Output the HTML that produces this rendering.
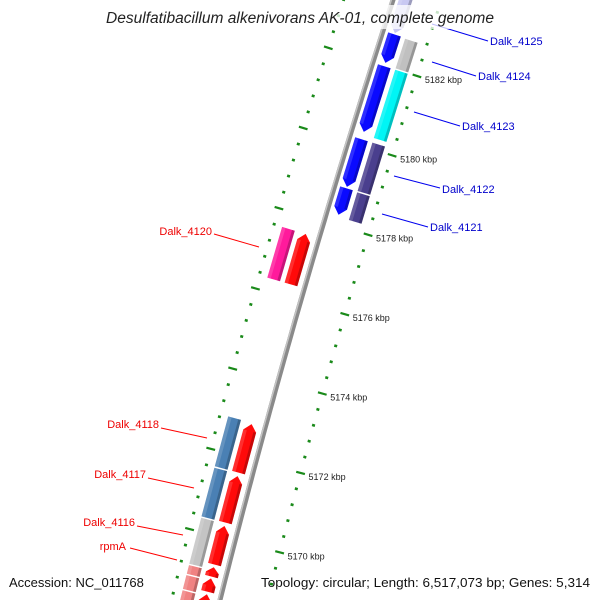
<!DOCTYPE html>
<html><head><meta charset="utf-8"><style>
html,body{margin:0;padding:0;background:#fff;overflow:hidden;width:600px;height:600px;}
svg{display:block;font-family:"Liberation Sans","DejaVu Sans",sans-serif;overflow:hidden;}
</style></head><body>
<svg id="map" width="600" height="600" viewBox="0 0 600 600" xmlns="http://www.w3.org/2000/svg">
<g id="ticks"></g>
<path id="backbone" d="" fill="none"/>
<g id="features"></g>
<g id="labels"></g>
<rect x="100" y="5" width="400" height="24" fill="#fff" opacity="0.75"/>
<text x="300" y="23" text-anchor="middle" font-size="15.5" font-style="italic" fill="#222" textLength="388" lengthAdjust="spacingAndGlyphs">Desulfatibacillum alkenivorans AK-01, complete genome</text>
<text x="9" y="587" font-size="13" fill="#111">Accession: NC_011768</text>
<text x="590" y="587" text-anchor="end" font-size="13" fill="#111" textLength="329" lengthAdjust="spacingAndGlyphs">Topology: circular; Length: 6,517,073 bp; Genes: 5,314</text>
</svg>
<script>
// feature data (kbp)
const featStart = [5183.75,5182.80,5182.00,5180.17,5178.94, 5182.78,5182.00,5180.17,5178.92, 5177.61,5172.85,5171.55,5170.30,5169.27,5168.99,5168.59, 5177.61,5172.88,5171.60,5170.35,5169.17,5168.92,5168.54];
const featEnd   = [5182.80,5182.05,5180.32,5178.94,5178.24, 5182.00,5180.25,5178.92,5178.19, 5176.31,5171.60,5170.35,5169.30,5169.00,5168.62,5168.04, 5176.31,5171.60,5170.35,5169.17,5168.92,5168.54,5167.91];
const featTrack = [1,1,1,1,1, 2,2,2,2, -1,-1,-1,-1,-1,-1,-1, -2,-2,-2,-2,-2,-2,-2];
const featArrow = ['down','down','down','down','down', 'none','none','none','none', 'up','up','up','up','up','up','up', 'none','none','none','none','none','none','none'];
const featColor = ['#c8c8f2','#0a0aff','#0a0aff','#0a0aff','#0a0aff', '#c0c0c0','#00f5f5','#4a3f8e','#4a3f8e', '#ff0a0a','#ff0a0a','#ff0a0a','#ff0a0a','#ff0a0a','#ff0a0a','#ff0a0a', '#ff1a9c','#4a80b4','#4a80b4','#c4c4c4','#f08282','#f08282','#f08282'];
const tickLabels = ['5170 kbp','5172 kbp','5174 kbp','5176 kbp','5178 kbp','5180 kbp','5182 kbp'];
const tickLabelKbp = [5170,5172,5174,5176,5178,5180,5182];

const NS='http://www.w3.org/2000/svg';
function X(s){return 393-0.325*s+6.1e-5*s*s;}
function dX(s){return -0.325+1.22e-4*s;}
function sOf(kbp){return 62+(5182-kbp)*39.9;}
function pos(s,off){const d=dX(s),n=Math.sqrt(d*d+1);return [X(s)+off/n, s+off*(-d)/n];}
const trackOff={1:12,2:30,'-1':-14,'-2':-32};
function mk(tag,attrs,parent){const e=document.createElementNS(NS,tag);for(const k in attrs)e.setAttribute(k,attrs[k]);parent.appendChild(e);return e;}
function ptsStr(a){return a.map(p=>p[0].toFixed(1)+','+p[1].toFixed(1)).join(' ');}

// backbone
let d='';for(let s=-20;s<=620;s+=10){const p=pos(s,0);d+=(s===-20?'M':'L')+p[0].toFixed(1)+','+p[1].toFixed(1);}
const bb=document.getElementById('backbone');
bb.setAttribute('d',d);bb.setAttribute('stroke','#8a8a8a');bb.setAttribute('stroke-width','5');
let d2='';for(let s=-20;s<=620;s+=10){const p=pos(s,-1.6);d2+=(s===-20?'M':'L')+p[0].toFixed(1)+','+p[1].toFixed(1);}
const bb2=mk('path',{d:d2,fill:'none',stroke:'#c4c4c4','stroke-width':'1.5'},document.getElementById('map'));


document.getElementById('map').insertBefore(bb2,document.getElementById('features'));

// ticks
const tg=document.getElementById('ticks');
for(let k=0;k<=42;k++){
  const kbp=5167.2+k*0.4;const s=sOf(kbp);
  const major=Math.abs(Math.round(kbp/2)*2-kbp)<0.01;
  [46,-47].forEach(r=>{
    const L=major?4.5:1.5;const a=pos(s,r-L),b=pos(s,r+L);
    if(a[1]>598||b[1]>598)return;
    const ln=mk('line',{x1:a[0],y1:a[1],x2:b[0],y2:b[1],stroke:'#1a8a1a','stroke-width':major?2.2:2.6},tg);
    
    
  });
}
tickLabels.forEach((t,i)=>{
  const p=pos(sOf(tickLabelKbp[i]),46);
  const tx=mk('text',{x:p[0]+8,y:p[1]+7,'font-size':'9',fill:'#222'},tg);
  tx.textContent=t;
  
  
});

// features
const fg=document.getElementById('features');
for(let i=0;i<featStart.length;i++){
  const s1=sOf(featStart[i])+0.7,s2=Math.min(sOf(featEnd[i])-0.7,612),off=trackOff[featTrack[i]],w=6.6,h=Math.min(7,(s2-s1)*0.6);
  let P;
  if(featArrow[i]==='down')P=[pos(s1,off-w),pos(s1,off+w),pos(s2-h,off+w),pos(s2,off),pos(s2-h,off-w)];
  else if(featArrow[i]==='up')P=[pos(s1,off),pos(s1+h,off+w),pos(s2,off+w),pos(s2,off-w),pos(s1+h,off-w)];
  else P=[pos(s1,off-w),pos(s1,off+w),pos(s2,off+w),pos(s2,off-w)];
  const g=mk('g',{},fg);
  
  
  mk('polygon',{points:ptsStr(P),fill:featColor[i]},g);
  const sa=featArrow[i]==='up'?s1+h:s1, sb=featArrow[i]==='down'?s2-h:s2;
  const sh=mk('polygon',{points:ptsStr([pos(sa,off+3.8),pos(sa,off+w),pos(sb,off+w),pos(sb,off+3.8)]),fill:'#000',opacity:'0.22'},g);
  
  
  const hl=mk('polygon',{points:ptsStr([pos(sa,off-w),pos(sa,off-3),pos(sb,off-3),pos(sb,off-w)]),fill:'#fff',opacity:'0.15'},g);
  
  
}

// labels
const labs=[
 ['Dalk_4125',490,45,432,24,488,41,'#0000cc','start'],
 ['Dalk_4124',478,80,432,62,476,76,'#0000cc','start'],
 ['Dalk_4123',462,130,414,112,460,126,'#0000cc','start'],
 ['Dalk_4122',442,193,394,176,440,188,'#0000cc','start'],
 ['Dalk_4121',430,231,382,214,428,227,'#0000cc','start'],
 ['Dalk_4120',212,235,214,234,259,247,'#ee0000','end'],
 ['Dalk_4118',159,428,161,428,207,438,'#ee0000','end'],
 ['Dalk_4117',146,478,148,478,194,488,'#ee0000','end'],
 ['Dalk_4116',135,526,137,526,183,535,'#ee0000','end'],
 ['rpmA',126,550,130,548,177,560,'#ee0000','end']];
const lg=document.getElementById('labels');
labs.forEach(l=>{
  const ln=mk('line',{x1:l[3],y1:l[4],x2:l[5],y2:l[6],stroke:l[7]==='#0000cc'?'#0000ee':'#ff0000','stroke-width':'1'},lg);
  
  
  const t=mk('text',{x:l[1],y:l[2],'font-size':'11',fill:l[7],'text-anchor':l[8]},lg);
  t.textContent=l[0];
  
  
});
</script>
</body></html>
